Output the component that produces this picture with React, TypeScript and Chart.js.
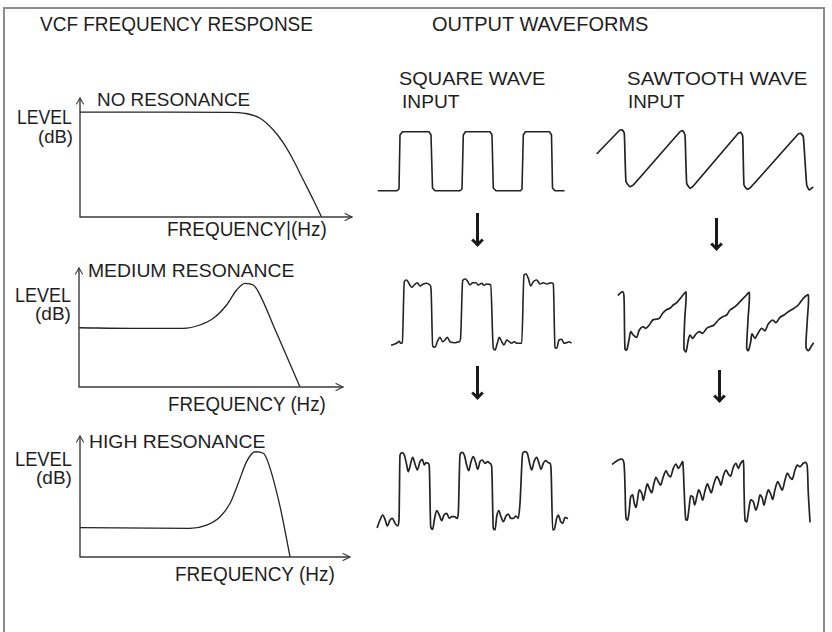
import React, { useEffect, useLayoutEffect, useRef } from "react";
import { Chart, registerables } from "chart.js";
Chart.register(...registerables);

type Pt = [number, number];

// ---- VCF frequency response curves (frequency, level) in % of axis length ----
const noResFreq = [0, 30, 55, 60.7, 66.2, 71.1, 74.8, 78.4, 82.1, 85.8, 88.8];
const noResLevel = [88.2, 88.2, 88.0, 87.1, 83.0, 73.1, 62.0, 47.9, 31.1, 14.3, 0];

const medResFreq = [0, 20.5, 39.5, 45.8, 50.9, 55.9, 59.7, 62.9, 66.0, 67.9, 74.9, 83.7];
const medResLevel = [49.8, 49.3, 49.3, 52.1, 57.7, 68.9, 81.5, 87.1, 85.7, 80.1, 45.1, 0];

const highResFreq = [0, 40.7, 46.9, 51.9, 55.6, 58.6, 61.7, 64.8, 67.9, 69.8, 74.1, 77.8];
const highResLevel = [24.2, 23.7, 26.4, 33.3, 44.4, 60.9, 78.8, 87.0, 85.7, 77.4, 41.6, 0];

// ---- Output waveforms: [time, level] ----
const squareInput: Pt[] = [
  [3.3, 4.3], [22, 4.3], [24, 6], [25, 60], [27.5, 63.3], [54, 63.3], [56, 60], [57.5, 7], [60, 4.3],
  [85, 4.3], [87, 6], [88.3, 60], [90.5, 63.3], [115, 63.3], [117, 60], [118.3, 7], [121, 4.3],
  [145.5, 4.3], [147, 6], [148.3, 60], [150.5, 63.3], [174.5, 63.3], [176.5, 60], [177.5, 7], [180, 4.3], [189, 4.3],
];

const sawtoothInput: Pt[] = [
  [7.3, 46.7], [30, 70], [32.3, 70], [34.3, 66.7], [36, 18.3], [40, 13.3], [43.3, 15],
  [90, 68.3], [92.7, 69.3], [95, 65], [96.7, 16.7], [100, 11.7], [103.3, 14],
  [148.3, 66.7], [150.7, 67.7], [152.7, 64], [154, 15], [157.3, 10.7], [160.7, 12.7],
  [208.3, 66], [210.7, 66.7], [213.3, 63.3], [216.7, 15], [219.3, 10], [222.7, 12.7],
];

const squareMedium: Pt[] = [
  [6.7, 10], [10, 11], [12.3, 12.3], [14.3, 13.7], [15.7, 11.7], [17.3, 12.3],
  [19.3, 73.3], [21.7, 75], [24.3, 71], [26.7, 67.7], [29.3, 70], [32.3, 72.3], [35, 69], [38.3, 71], [41.7, 71.7], [45, 70], [46, 66.7],
  [47.7, 9], [50, 7.7], [52.3, 13.3], [55, 17.7], [57.7, 13.3], [60, 15], [62.3, 17.7], [65, 13.3], [70, 12.3], [74.3, 13.3], [75.5, 16],
  [77.7, 74.3], [80, 76], [82.3, 74.3], [85, 70], [87.7, 72.3], [91, 72.3], [93.3, 70], [96.7, 71.7], [99, 69.7], [101.7, 71], [105.7, 70],
  [108.3, 6.7], [110, 5], [112.3, 11.7], [114.3, 17.7], [116.7, 13.3], [119, 10], [121.7, 15], [124.3, 13.3], [126.7, 11.7], [129, 13.3], [132.3, 11.7], [136.7, 11.7],
  [139, 80], [141, 81], [143.3, 76.7], [145.7, 69], [148.3, 73.3], [151.7, 75], [155, 71], [158.3, 72.3], [161.7, 71], [166.7, 72.3], [168.3, 71],
  [170, 7.7], [171.7, 6.7], [174, 15], [176.7, 15.7], [179, 11.7], [181.7, 12.3], [184.3, 13.3], [186, 12.3],
];

const sawtoothMedium: Pt[] = [
  [8.3, 65], [12.7, 68.3], [14, 63.3], [15, 10.7], [16.7, 10], [19.3, 21.7], [20.7, 28.3], [23.3, 25], [26.7, 22.7], [29.3, 30],
  [32.7, 33.3], [36, 31.7], [39.3, 35], [42.7, 40], [46, 40.7], [49.3, 41.7], [52.7, 46.7], [56, 50], [60, 51.7], [63.3, 55],
  [66.7, 57.3], [71.7, 63.3], [76, 67.7], [74.7, 40], [74, 10.7], [76, 8.3], [78.3, 20], [80, 25], [82.7, 21.7], [86, 26],
  [89.3, 28.3], [92.7, 26.7], [96.7, 31.7], [100, 33.3], [104, 35], [108.3, 40], [112.7, 43.3], [116.7, 45], [120, 50], [125, 53.3],
  [130, 58.3], [135, 63.3], [139.3, 67.3], [138, 40], [136.7, 11.7], [138.3, 9.3], [140.7, 18.3], [142, 26], [145, 21.7], [148.3, 27.3],
  [151.7, 31.7], [155, 29.3], [158.3, 36], [162.7, 40], [166, 37.3], [170, 42.7], [174, 45], [178.3, 48.3], [184, 51.7], [188.3, 55],
  [193.3, 61.7], [198.3, 65], [197.3, 40], [196, 12.7], [198.3, 9.3], [200.7, 12.7], [203.3, 16.7],
];

const squareHigh: Pt[] = [
  [7.3, 12.7], [10, 20], [12.7, 25], [15, 20.7], [17.3, 14], [20, 20], [22.3, 21.7], [25, 16.7], [27.7, 14], [29, 20],
  [30, 85], [32.3, 87.3], [34.3, 85], [36.7, 75], [38.3, 68.3], [40.7, 76.7], [42.7, 82.7], [45.3, 75], [47.3, 70], [50, 78.3], [52.3, 80.7], [54.3, 75], [56, 77.3], [58.3, 76.7], [59.3, 73.3],
  [60.7, 13.3], [62.7, 10.7], [64.3, 20], [66.7, 29.3], [69.3, 25], [71.7, 19.3], [74, 25], [76.7, 26.7], [79.3, 21.7], [81.7, 23.3], [84.3, 23.3], [87.3, 21.7], [88.3, 26.7],
  [90, 85], [92.3, 87.7], [94.3, 85], [96.7, 75], [98.7, 69.3], [101, 78.3], [103.3, 83.3], [105.7, 77.3], [107.7, 70.7], [110, 78.3], [112.3, 80], [115, 76.7], [117.7, 78.3], [120, 76.7], [121.7, 73.3],
  [123.3, 11.7], [125, 10], [126.7, 23.3], [128.7, 29.3], [131, 23.3], [133.3, 18.3], [136, 24], [138.3, 26], [140.7, 21.7], [143.3, 21.7], [146, 24], [148.3, 21.7], [150, 36.7],
  [152.7, 86.7], [155, 88.3], [157.3, 86.7], [160, 75], [161.7, 70], [164, 78.3], [166.7, 82.7], [169, 76.7], [171, 70.7], [173.3, 76.7], [175.7, 79.3], [178.3, 77.3], [180, 76.7], [181, 71.7],
  [182.7, 10], [184.3, 10.7], [186.7, 21.7], [188.3, 25], [190.7, 18.3], [192.7, 16.7], [195, 22.7], [197.3, 21.7],
];

const sawtoothHigh: Pt[] = [
  [7.7, 66], [13.3, 70], [17.3, 70.7], [19, 66.7], [20, 43.3], [21, 11.7], [22.7, 10], [24.3, 20], [25.7, 33.3], [27.7, 35],
  [29.3, 26.7], [31, 22.7], [32.7, 31.7], [34.3, 40], [36.7, 36.7], [38.3, 30], [40.3, 38.3], [42.3, 46], [44.3, 41.7], [46.7, 37.3],
  [49, 46.7], [51, 52.7], [53.3, 48.3], [55.7, 45], [58.3, 53.3], [61, 59.3], [63.3, 55], [65.7, 53.3], [68.3, 61.7], [71, 66],
  [73.3, 61.7], [75.7, 65], [77.7, 68.3], [79, 43.3], [80.7, 10.7], [82.3, 10], [84, 21.7], [85.7, 34], [87.7, 33.3], [89.7, 25],
  [91.7, 32.7], [93.7, 40], [95.7, 36], [97.7, 30], [100, 39.3], [102.3, 46], [104.3, 41.7], [106.3, 37.3], [109, 46.7], [111.7, 53.3],
  [114, 50], [116, 45], [118.3, 54], [121, 60], [123.3, 56], [125.7, 54], [128.3, 62.7], [131, 66.7], [133.3, 61.7], [135.7, 66.7],
  [138.3, 69.3], [139, 43.3], [140, 10], [141.7, 8.3], [143.7, 20], [145.7, 30], [148.3, 28.3], [150.7, 20], [153, 26], [155, 35],
  [157.3, 31.7], [159, 25], [161, 32.7], [163.3, 40], [165.7, 36], [167.7, 30.7], [170.3, 41.7], [172.7, 48.3], [175, 44], [177.3, 40],
  [180, 50], [182.3, 56.7], [185, 52.7], [187.3, 50.7], [190, 60], [192.3, 65], [195, 63.3], [198.3, 66.7], [201, 67.3], [202.3, 63.3],
  [203.3, 36.7], [205, 8.3],
];

const INK = "#232323";
const FONT = '"Liberation Sans", Arial, Helvetica, sans-serif';

const arrowAxes = {
  id: "arrowAxes",
  afterDatasetsDraw(chart: any) {
    const { ctx, scales } = chart;
    const x = scales.x, y = scales.y;
    const x0 = x.getPixelForValue(0), x1 = x.getPixelForValue(x.max);
    const y0 = y.getPixelForValue(0), y1 = y.getPixelForValue(y.max);
    ctx.save();
    ctx.strokeStyle = "#3a3a3a";
    ctx.lineWidth = 1.4;
    ctx.lineCap = "round";
    ctx.lineJoin = "round";
    ctx.beginPath();
    ctx.moveTo(x0, y1);
    ctx.lineTo(x0, y0);
    ctx.lineTo(x1, y0);
    ctx.stroke();
    ctx.lineWidth = 1.1;
    ctx.beginPath();
    ctx.moveTo(x0 - 3.5, y1 + 6);
    ctx.lineTo(x0, y1);
    ctx.lineTo(x0 + 3.5, y1 + 6);
    ctx.moveTo(x1 - 7, y0 - 3.5);
    ctx.lineTo(x1, y0);
    ctx.lineTo(x1 - 7, y0 + 3.5);
    ctx.stroke();
    ctx.restore();
  },
};

const PAD = 10;

function LineChart(props: {
  left: number; top: number; width: number; height: number;
  points: { x: number; y: number }[];
  xMax: number; yMax: number; axes?: boolean; mono?: boolean; tension?: number; lineWidth?: number;
}) {
  const ref = useRef<HTMLCanvasElement>(null);
  const { left, top, width, height, points, xMax, yMax, axes, mono, tension, lineWidth } = props;
  useEffect(() => {
    if (!ref.current) return;
    const chart = new Chart(ref.current, {
      type: "line",
      data: {
        datasets: [
          {
            data: points,
            borderColor: INK,
            borderWidth: lineWidth ?? 1.5,
            pointRadius: 0,
            fill: false,
            tension: tension ?? 0,
            cubicInterpolationMode: mono ? "monotone" : "default",
            borderJoinStyle: "round",
            borderCapStyle: "round",
          } as any,
        ],
      },
      options: {
        animation: false,
        responsive: false,
        events: [],
        layout: { padding: PAD },
        plugins: { legend: { display: false }, tooltip: { enabled: false } },
        scales: {
          x: { type: "linear", min: 0, max: xMax, display: false },
          y: { type: "linear", min: 0, max: yMax, display: false },
        },
      },
      plugins: axes ? [arrowAxes as any] : [],
    });
    return () => chart.destroy();
  }, []);
  return (
    <canvas
      ref={ref}
      width={width + 2 * PAD}
      height={height + 2 * PAD}
      style={{ position: "absolute", left: left - PAD, top: top - PAD, width: width + 2 * PAD, height: height + 2 * PAD }}
    />
  );
}

function Label(props: { x: number; y: number; w: number; cap: number; text: string }) {
  const ref = useRef<HTMLSpanElement>(null);
  const size = props.cap / 0.716;
  useLayoutEffect(() => {
    const el = ref.current;
    if (!el) return;
    const nat = el.offsetWidth;
    if (nat > 0) el.style.transform = `scaleX(${props.w / nat})`;
  }, [props.w, props.text]);
  return (
    <span
      ref={ref}
      style={{
        position: "absolute",
        left: props.x,
        top: props.y - 0.1305 * size,
        fontSize: size,
        lineHeight: 1,
        fontFamily: FONT,
        whiteSpace: "pre",
        transformOrigin: "0 0",
        color: "#1e1e1e",
        display: "inline-block",
      }}
    >
      {props.text}
    </span>
  );
}

function DownArrow(props: { x: number; top: number; bottom: number }) {
  const s = 9;
  const half = (s * Math.SQRT2) / 2;
  return (
    <>
      <div style={{ position: "absolute", left: props.x - 1.5, top: props.top, width: 3, height: props.bottom - props.top - 3, background: "#1a1a1a" }} />
      <div
        style={{
          position: "absolute",
          left: props.x - s / 2,
          top: props.bottom - half - s / 2 - 1,
          width: s,
          height: s,
          boxSizing: "border-box",
          borderRight: "3px solid #1a1a1a",
          borderBottom: "3px solid #1a1a1a",
          transform: "rotate(45deg)",
        }}
      />
    </>
  );
}

const toXY = (f: number[], l: number[]) => f.map((v, i) => ({ x: v, y: l[i] }));
const pts = (p: Pt[]) => p.map(([x, y]) => ({ x, y }));

export default function App() {
  return (
    <div style={{ position: "absolute", left: 0, top: 0, width: 832, height: 632, overflow: "hidden", background: "#fff" }}>
      <div style={{ position: "absolute", left: 3, top: 7, width: 822, height: 700, border: "2px solid #8c8c8c", boxSizing: "border-box" }} />

      <Label x={40} y={17} w={273} cap={15} text="VCF FREQUENCY RESPONSE" />
      <Label x={432} y={17} w={216} cap={15} text="OUTPUT WAVEFORMS" />

      <Label x={399} y={72} w={146} cap={13.5} text="SQUARE WAVE" />
      <Label x={402} y={95} w={58} cap={13.5} text="INPUT" />
      <Label x={627} y={72} w={180} cap={13.5} text="SAWTOOTH WAVE" />
      <Label x={628} y={95} w={57} cap={13.5} text="INPUT" />

      <Label x={97} y={93} w={153} cap={13} text="NO RESONANCE" />
      <Label x={17} y={111} w={55} cap={14} text="LEVEL" />
      <Label x={38} y={131} w={35} cap={12.5} text="(dB)" />
      <Label x={167} y={223} w={160} cap={14} text="FREQUENCY|(Hz)" />

      <Label x={88} y={264} w={207} cap={13} text="MEDIUM RESONANCE" />
      <Label x={15} y={289} w={56} cap={14} text="LEVEL" />
      <Label x={35} y={308} w={36} cap={12.5} text="(dB)" />
      <Label x={168} y={398} w={158} cap={14} text="FREQUENCY (Hz)" />

      <Label x={89} y={435} w={176} cap={13} text="HIGH RESONANCE" />
      <Label x={15} y={453} w={57} cap={14} text="LEVEL" />
      <Label x={36} y={472} w={36} cap={12.5} text="(dB)" />
      <Label x={175} y={568} w={160} cap={14} text="FREQUENCY (Hz)" />

      <LineChart left={80} top={98} width={272} height={119} xMax={100} yMax={100} axes mono lineWidth={1.3} points={toXY(noResFreq, noResLevel)} />
      <LineChart left={79} top={268} width={264} height={119} xMax={100} yMax={100} axes mono lineWidth={1.3} points={toXY(medResFreq, medResLevel)} />
      <LineChart left={80} top={436} width={270} height={121} xMax={100} yMax={100} axes mono lineWidth={1.3} points={toXY(highResFreq, highResLevel)} />

      <LineChart left={375} top={125} width={195} height={70} xMax={195} yMax={70} lineWidth={1.6} points={pts(squareInput)} />
      <LineChart left={590} top={120} width={230} height={80} xMax={230} yMax={80} lineWidth={1.7} tension={0.15} points={pts(sawtoothInput)} />
      <LineChart left={385} top={265} width={195} height={90} xMax={195} yMax={90} lineWidth={1.6} mono points={pts(squareMedium)} />
      <LineChart left={610} top={285} width={210} height={75} xMax={210} yMax={75} lineWidth={1.7} tension={0.3} points={pts(sawtoothMedium)} />
      <LineChart left={370} top={445} width={210} height={95} xMax={210} yMax={95} lineWidth={1.7} mono points={pts(squareHigh)} />
      <LineChart left={605} top={450} width={215} height={80} xMax={215} yMax={80} lineWidth={1.7} tension={0.3} points={pts(sawtoothHigh)} />

      <DownArrow x={477} top={213} bottom={248} />
      <DownArrow x={716} top={218} bottom={252} />
      <DownArrow x={477} top={366} bottom={401} />
      <DownArrow x={719} top={370} bottom={404} />
    </div>
  );
}
